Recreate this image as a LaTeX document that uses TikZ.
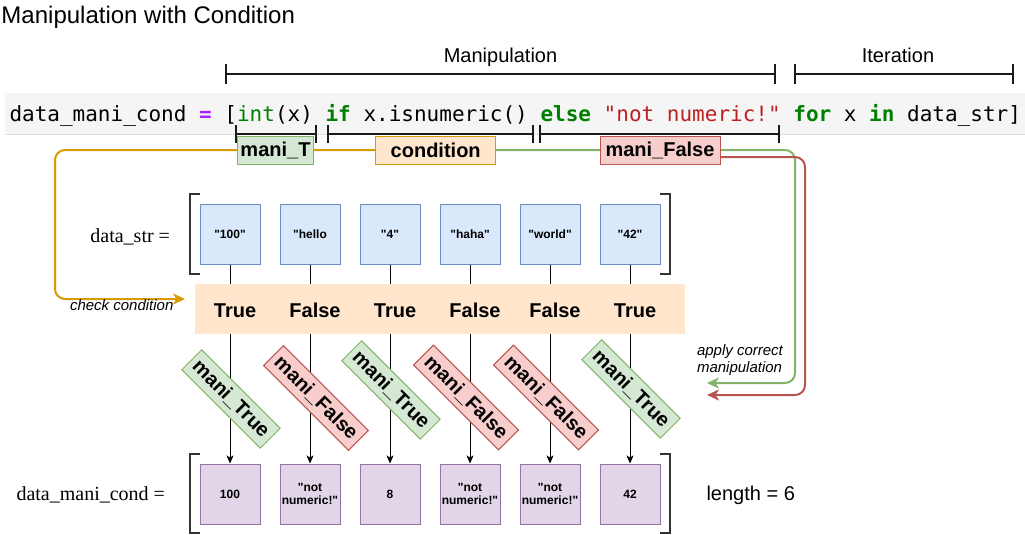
\documentclass[tikz,border=0pt]{standalone}
\usepackage{fontspec}
\setmainfont[Ligatures=TeXOff]{Liberation Sans}
\newfontfamily\seriffam{Liberation Serif}
\newfontfamily\monofam[Ligatures=TeXOff]{DejaVu Sans Mono}
\usetikzlibrary{arrows.meta}
\definecolor{bluefill}{HTML}{DAE8FC}
\definecolor{blueline}{HTML}{6C8EBF}
\definecolor{greenfill}{HTML}{D5E8D4}
\definecolor{greenline}{HTML}{82B366}
\definecolor{redfill}{HTML}{F8CECC}
\definecolor{redline}{HTML}{B85450}
\definecolor{orangefill}{HTML}{FFE6CC}
\definecolor{orangeline}{HTML}{D79B00}
\definecolor{purpfill}{HTML}{E1D5E7}
\definecolor{purpline}{HTML}{9673A6}
\definecolor{codebg}{HTML}{F5F5F5}
\definecolor{codeline}{HTML}{DDDDDD}
\definecolor{kwc}{HTML}{008000}
\definecolor{opc}{HTML}{AA22FF}
\definecolor{strc}{HTML}{BA2121}
\definecolor{brkcol}{HTML}{1A1A1A}
\definecolor{listbrkcol}{HTML}{333333}
\pgfdeclarelayer{bg}
\pgfsetlayers{bg,main}
\tikzset{
  txt/.style={inner sep=0pt, outer sep=0pt},
  item/.style={draw, line width=1pt, minimum width=60pt, minimum height=60pt, inner sep=1pt, align=center, font=\fontsize{12}{13.5}\selectfont\bfseries},
  inbox/.style={item, fill=bluefill, draw=blueline},
  outbox/.style={item, fill=purpfill, draw=purpline},
  tflabel/.style={txt, anchor=base, font=\fontsize{20}{24}\selectfont\bfseries},
  rotlab/.style={rotate=-45, minimum height=28pt, inner sep=0pt, line width=1pt, font=\fontsize{20}{24}\selectfont\bfseries},
  truelab/.style={rotlab, fill=greenfill, draw=greenline, minimum width=111pt},
  falselab/.style={rotlab, fill=redfill, draw=redline, minimum width=120pt},
  partlab/.style={minimum height=28pt, inner sep=0pt, line width=1pt, font=\fontsize{20}{24}\selectfont\bfseries},
  brk/.style={line width=2pt, draw=brkcol},
  listbrk/.style={line width=2.5pt, draw=listbrkcol},
  col/.style={line width=1pt, draw=black},
  colarrow/.style={col, -{Stealth[length=8pt,width=7pt,inset=2pt]}},
  flow/.style={line width=2pt, rounded corners=10pt, -{Stealth[length=12pt,width=11pt,inset=3.5pt]}},
}
\begin{document}
\begin{tikzpicture}[x=1pt,y=-1pt]
\useasboundingbox (0,0) rectangle (1025,535);

% title
\node[txt, anchor=base west, font=\fontsize{24}{28}\selectfont] (title) at (1.5,24) {Manipulation with Condition};

% upper brackets
\node[txt, anchor=base, font=\fontsize{20}{24}\selectfont] (maniplab) at (500.5,62.5) {Manipulation};
\node[txt, anchor=base, font=\fontsize{20}{24}\selectfont] (iterlab) at (898,62.5) {Iteration};
\draw[brk] (226,64) -- (226,84) (226,74) -- (775,74) (775,64) -- (775,84);
\draw[brk] (795,64) -- (795,84) (795,74) -- (1013,74) (1013,64) -- (1013,84);

% code line
\fill[codebg] (5,93) rectangle (1025,134);
\draw[codeline, line width=1pt] (5,134) -- (1025,134);
\node[txt, anchor=base west, font=\fontsize{21}{25}\selectfont\monofam\frenchspacing] (code) at (9.5,121.5)
  {data\_mani\_cond {\bfseries\color{opc}=} [{\color{kwc}int}(x) {\bfseries\color{kwc}if} x.isnumeric() {\bfseries\color{kwc}else} {\color{strc}"not numeric!"} {\bfseries\color{kwc}for} x {\bfseries\color{kwc}in} data\_str]};

% lower brackets
\draw[brk] (236,125) -- (236,143) (236,134) -- (316,134) (316,125) -- (316,143);
\draw[brk] (328,125) -- (328,143) (328,134) -- (533,134) (533,125) -- (533,143);
\draw[brk] (540,125) -- (540,143) (540,134) -- (779,134) (779,125) -- (779,143);

% part labels
\node[partlab, fill=greenfill, draw=greenline, minimum width=76pt] (mt) at (275.5,150) {mani\_T};
\node[partlab, fill=orangefill, draw=orangeline, minimum width=120pt] (cond) at (435.7,150) {condition};
\node[partlab, fill=redfill, draw=redline, minimum width=120pt] (mf) at (660,150) {mani\_False};

% list labels
\node[txt, anchor=base east, font=\fontsize{20}{24}\selectfont\seriffam] (dslab) at (170,242) {data\_str =};
\node[txt, anchor=base east, font=\fontsize{20}{24}\selectfont\seriffam] (dmclab) at (165,500) {data\_mani\_cond =};
\node[txt, anchor=base west, font=\fontsize{20}{24}\selectfont] (lenlab) at (706.5,500.5) {length = 6};

% list brackets
\draw[listbrk] (200,194) -- (190,194) -- (190,274) -- (200,274);
\draw[listbrk] (660,194) -- (670,194) -- (670,274) -- (660,274);
\draw[listbrk] (200,454) -- (190,454) -- (190,533) -- (200,533);
\draw[listbrk] (660,454) -- (670,454) -- (670,533) -- (660,533);

% input boxes
\node[inbox] (t1) at (230,234) {"100"};
\node[inbox] (t2) at (310,234) {"hello};
\node[inbox] (t3) at (390,234) {"4"};
\node[inbox] (t4) at (470,234) {"haha"};
\node[inbox] (t5) at (550,234) {"world"};
\node[inbox] (t6) at (630,234) {"42"};

% condition band
\node[fill=orangefill, minimum width=490pt, minimum height=50pt, inner sep=0pt] (band) at (440,309) {};
\node[tflabel] (c1) at (235,317) {True};
\node[tflabel] (c2) at (315,317) {False};
\node[tflabel] (c3) at (395,317) {True};
\node[tflabel] (c4) at (475,317) {False};
\node[tflabel] (c5) at (555,317) {False};
\node[tflabel] (c6) at (635,317) {True};

% output boxes
\node[outbox] (o1) at (230,494) {100};
\node[outbox] (o2) at (310,494) {"not\\numeric!"};
\node[outbox] (o3) at (390,494) {8};
\node[outbox] (o4) at (470,494) {"not\\numeric!"};
\node[outbox] (o5) at (550,494) {"not\\numeric!"};
\node[outbox] (o6) at (630,494) {42};

% column connectors
\foreach \i in {1,...,6}{
  \draw[col] (t\i.south) -- (t\i.south |- band.north);
  \draw[colarrow] (t\i.south |- band.south) -- (o\i.north);
}

% rotated manipulation labels
\node[truelab] (r1) at (231,399) {mani\_True};
\node[falselab] (r2) at (316,398) {mani\_False};
\node[truelab] (r3) at (391,390) {mani\_True};
\node[falselab] (r4) at (466,397.5) {mani\_False};
\node[falselab] (r5) at (546,397.5) {mani\_False};
\node[truelab] (r6) at (631,389) {mani\_True};

% flow annotations
\node[txt, anchor=base west, font=\fontsize{15}{18}\selectfont\itshape] (chklab) at (70,310.7) {check condition};
\node[txt, anchor=base west, align=left, font=\fontsize{15}{17.5}\selectfont\itshape] (applab) at (697,372.5) {apply correct\\manipulation};

\coordinate (oturn) at (55,299);
\coordinate (chk) at (185,299);
\coordinate (gturn) at (795,383);
\coordinate (gend) at (707,383);
\coordinate (rturn) at (805,395);
\coordinate (rend) at (707,395);

\begin{pgfonlayer}{bg}
\draw[flow, draw=orangeline] (cond.west) -| (oturn) -- (chk);
\draw[flow, draw=greenline] (cond.east) -| (gturn) -- (gend);
\draw[flow, draw=redline] ([yshift=-7pt]mf.east) -| (rturn) -- (rend);
\end{pgfonlayer}
\end{tikzpicture}
\end{document}
